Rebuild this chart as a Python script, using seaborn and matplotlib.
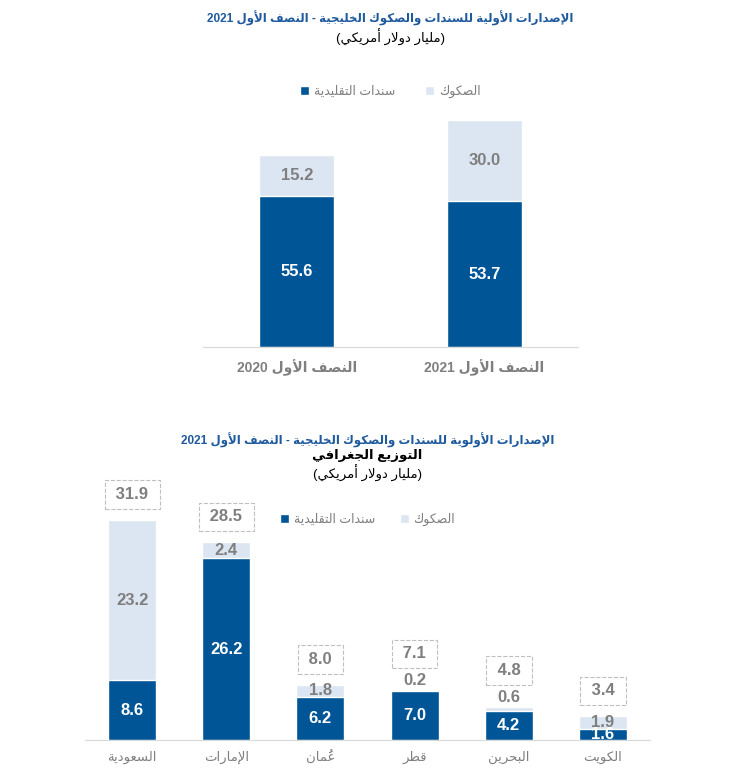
import re
import matplotlib
matplotlib.use("Agg")
import matplotlib.pyplot as plt
import seaborn as sns

# ---------------- data ----------------
half_labels = ["النصف الأول 2020", "النصف الأول 2021"]
half_conv = [55.6, 53.7]
half_sukuk = [15.2, 30.0]

countries = ["السعودية", "الإمارات", "عُمان", "قطر", "البحرين", "الكويت"]
country_conv = [8.6, 26.2, 6.2, 7.0, 4.2, 1.6]
country_sukuk = [23.2, 2.4, 1.8, 0.2, 0.6, 1.9]
country_total = [31.9, 28.5, 8.0, 7.1, 4.8, 3.4]

title_top = "الإصدارات الأولية للسندات والصكوك الخليجية - النصف الأول 2021"
title_bottom = "الإصدارات الأولوية للسندات والصكوك الخليجية - النصف الأول 2021"
subtitle_geo = "التوزيع الجغرافي"
unit_text = "(مليار دولار أمريكي)"
legend_conv = "سندات التقليدية"
legend_sukuk = "الصكوك"

DARK = "#005596"
LIGHT = "#DCE6F2"
GREY = "#7F7F7F"
TITLE_BLUE = "#1F5A9E"

# ------------- tiny arabic shaping (no reshaper lib available) -------------
FORMS = {}
code = 0xFE80
for ch, n in zip("ءآأؤإئابةتثجحخدذرزسشصضطظعغفقكلمنهوىي",
                 [1, 2, 2, 2, 2, 4, 2, 4, 2, 4, 4, 4, 4, 4, 2, 2, 2, 2, 4, 4, 4, 4,
                  4, 4, 4, 4, 4, 4, 4, 4, 4, 4, 4, 2, 2, 4]):
    FORMS[ch] = [chr(code + k) for k in range(n)]
    code += n
LAM_ALEF = {"آ": 0xFEF5, "أ": 0xFEF7, "إ": 0xFEF9, "ا": 0xFEFB}
MARKS = set(chr(c) for c in range(0x064B, 0x0653))


def shape(s):
    out, prev, i = [], False, 0
    while i < len(s):
        c = s[i]
        if c not in FORMS:
            out.append(c)
            if c not in MARKS:
                prev = False
            i += 1
            continue
        j = i + 1
        while j < len(s) and s[j] in MARKS:
            j += 1
        nxt = s[j] if j < len(s) else ""
        if c == "ل" and nxt in LAM_ALEF:
            out.append(chr(LAM_ALEF[nxt] + int(prev)))
            out.extend(s[i + 1:j])
            prev = False
            i = j + 1
            continue
        forms = FORMS[c]
        join_prev = prev and len(forms) > 1
        join_next = len(forms) == 4 and nxt in FORMS and len(FORMS[nxt]) > 1
        idx = (3 if join_prev else 2) if join_next else (1 if join_prev else 0)
        out.append(forms[idx])
        prev = len(forms) == 4
        i += 1
    return "".join(out)


def rtl(s):
    # reshape + reverse for display (digits stay left-to-right)
    if not any("\u0600" <= c <= "\u06ff" for c in s):
        return s
    s = shape(s)
    runs = re.findall(r"[0-9A-Za-z][0-9A-Za-z.,]*|[^0-9A-Za-z]+", s)
    vis = []
    for run in reversed(runs):
        if re.match(r"[0-9A-Za-z]", run):
            vis.append(run)
            continue
        clusters = []
        for c in run:
            if c in MARKS and clusters:
                clusters[-1] = c + clusters[-1]
            else:
                clusters.append({"(": ")", ")": "("}.get(c, c))
        vis.append("".join(reversed(clusters)))
    return "".join(vis)


# ---------------- figure ----------------
sns.set_style("white")
plt.rcParams["font.family"] = ["Liberation Sans", "DejaVu Sans"]

W, H = 748, 784
fig = plt.figure(figsize=(W / 100, H / 100), dpi=100)


def px_axes(left, top, right, bottom):
    return fig.add_axes([left / W, 1 - bottom / H, (right - left) / W, (bottom - top) / H])


def style_axes(ax):
    sns.despine(ax=ax, left=True)
    ax.spines["bottom"].set_color("#D9D9D9")
    ax.set_yticks([])
    ax.set_xlabel("")
    ax.set_ylabel("")
    ax.tick_params(axis="x", length=0)


# top chart
ax1 = px_axes(203, 81, 578, 347)
x1 = [rtl(t) for t in half_labels]
tot1 = [a + b for a, b in zip(half_conv, half_sukuk)]
sns.barplot(x=x1, y=tot1, color=LIGHT, saturation=1, width=0.4, ax=ax1, label=rtl(legend_sukuk))
sns.barplot(x=x1, y=half_conv, color=DARK, saturation=1, width=0.4, ax=ax1, label=rtl(legend_conv))
ax1.set_xlim(-0.5, 1.5)
ax1.set_ylim(0, 98)
style_axes(ax1)
ax1.tick_params(axis="x", pad=9, labelsize=10, labelcolor=GREY)
for lab in ax1.get_xticklabels():
    lab.set_fontweight("bold")
for i, (c, s) in enumerate(zip(half_conv, half_sukuk)):
    ax1.text(i, c / 2, f"{c:.1f}", ha="center", va="center", color="white",
             fontsize=12, fontweight="bold")
    ax1.text(i, c + s / 2, f"{s:.1f}", ha="center", va="center", color=GREY,
             fontsize=12, fontweight="bold")
h, l = ax1.get_legend_handles_labels()
ax1.legend(h[::-1], l[::-1], ncol=2, loc="center", bbox_to_anchor=(0.5, 0.96),
           frameon=False, fontsize=9, labelcolor=GREY, handlelength=0.7,
           handleheight=0.7, handletextpad=0.4, columnspacing=2.4)

cx1 = (203 + 578) / 2 / W
fig.text(cx1, 1 - 18 / H, rtl(title_top), ha="center", va="center", color=TITLE_BLUE,
         fontsize=8.5, fontweight="bold")
fig.text(cx1, 1 - 37 / H, rtl(unit_text), ha="center", va="center", color="black", fontsize=9.5)

# bottom chart
ax2 = px_axes(85, 485, 650, 740)
x2 = [rtl(t) for t in countries]
tot2 = [a + b for a, b in zip(country_conv, country_sukuk)]
sns.barplot(x=x2, y=tot2, color=LIGHT, saturation=1, width=0.51, ax=ax2, label=rtl(legend_sukuk))
sns.barplot(x=x2, y=country_conv, color=DARK, saturation=1, width=0.51, ax=ax2, label=rtl(legend_conv))
ax2.set_xlim(-0.5, 5.5)
ax2.set_ylim(0, 36.8)
style_axes(ax2)
ax2.tick_params(axis="x", pad=8, labelsize=9.5, labelcolor=GREY)
for i, (c, s, t) in enumerate(zip(country_conv, country_sukuk, country_total)):
    ax2.text(i, c / 2, f"{c:.1f}", ha="center", va="center", color="white",
             fontsize=12, fontweight="bold")
    extra = 0
    if s < 1:
        # tiny segment: label sits just above the bar
        ax2.annotate(f"{s:.1f}", (i, c + s), xytext=(0, 7), textcoords="offset points",
                     ha="center", va="center", color=GREY, fontsize=12, fontweight="bold")
        extra = 8
    else:
        ax2.text(i, c + s / 2, f"{s:.1f}", ha="center", va="center", color=GREY,
                 fontsize=12, fontweight="bold")
    ax2.annotate(f" {t:.1f} ", (i, c + s), xytext=(0, 18 + extra), textcoords="offset points",
                 ha="center", va="center", color=GREY, fontsize=12, fontweight="bold",
                 annotation_clip=False,
                 bbox=dict(boxstyle="square,pad=0.4", fc="white", ec="#BFBFBF", ls="--", lw=0.8))
h, l = ax2.get_legend_handles_labels()
ax2.legend(h[::-1], l[::-1], ncol=2, loc="center", bbox_to_anchor=(0.5, 0.865),
           frameon=False, fontsize=9, labelcolor=GREY, handlelength=0.7,
           handleheight=0.7, handletextpad=0.4, columnspacing=2.0)

cx2 = (85 + 650) / 2 / W
fig.text(cx2, 1 - 440 / H, rtl(title_bottom), ha="center", va="center", color=TITLE_BLUE,
         fontsize=8.5, fontweight="bold")
fig.text(cx2, 1 - 456 / H, rtl(subtitle_geo), ha="center", va="center", color="black",
         fontsize=9.5, fontweight="bold")
fig.text(cx2, 1 - 473 / H, rtl(unit_text), ha="center", va="center", color="black", fontsize=9.5)

fig.savefig("out.png", dpi=100)
